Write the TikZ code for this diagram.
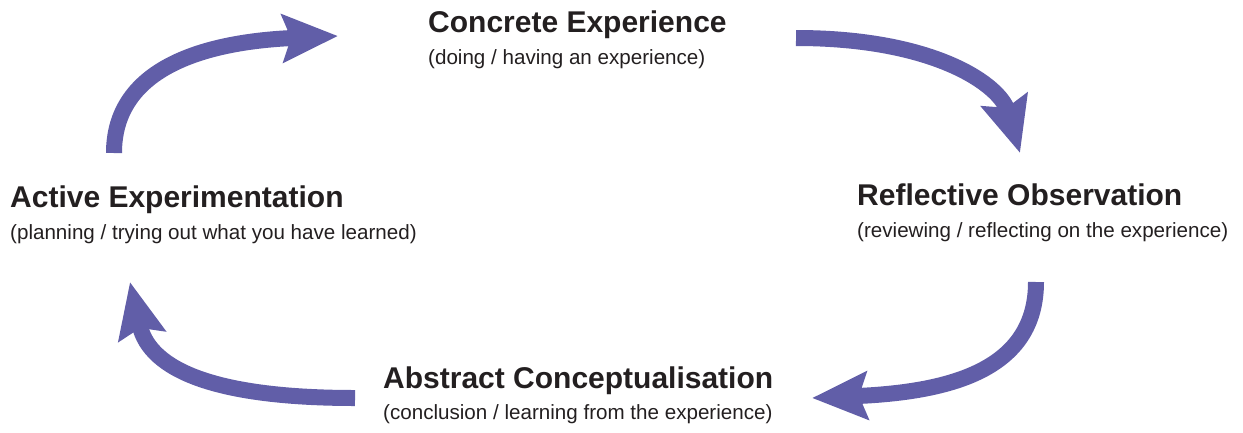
\documentclass[tikz,border=0pt]{standalone}
\usepackage{fontspec}
\setmainfont{Liberation Sans}
\usepackage{tikz}
\usetikzlibrary{positioning, calc, arrows.meta}

\definecolor{cyclepurple}{RGB}{97,94,168}
\definecolor{textdark}{RGB}{35,31,32}

\tikzset{
    stagetitle/.style={anchor=base west, inner sep=0pt, text=textdark,
        font=\fontsize{30}{36}\selectfont\bfseries},
    stagenote/.style={anchor=base west, inner sep=0pt, text=textdark,
        font=\fontsize{20.6}{24}\selectfont},
    cyclearrow/.style={draw=cyclepurple, line width=16pt,
        -{Stealth[length=55pt, width=47pt, inset=8pt]}}
}

\begin{document}
\begin{tikzpicture}[x=1pt, y=-1pt]
    \useasboundingbox (0,0) rectangle (1243,432);

    % Concrete Experience
    \node[stagetitle] (ce) at (428,32) {Concrete Experience};
    \node[stagenote] (cenote) at ($(ce.base west)+(0,32)$) {(doing / having an experience)};

    % Reflective Observation
    \node[stagetitle] (ro) at (857,205) {Reflective Observation};
    \node[stagenote] (ronote) at ($(ro.base west)+(0,32)$) {(reviewing / reflecting on the experience)};

    % Abstract Conceptualisation
    \node[stagetitle] (ac) at (383,388) {Abstract Conceptualisation};
    \node[stagenote] (acnote) at ($(ac.base west)+(0,31)$) {(conclusion / learning from the experience)};

    % Active Experimentation
    \node[stagetitle] (ae) at (10,207) {Active Experimentation};
    \node[stagenote] (aenote) at ($(ae.base west)+(0,32)$) {(planning / trying out what you have learned)};

    % arrow ends
    \coordinate (aeout) at (114,153);
    \coordinate (cein) at (338,36);
    \coordinate (ceout) at (796,38);
    \coordinate (roin) at (1020,153);
    \coordinate (roout) at (1036,282);
    \coordinate (acin) at (812,398);
    \coordinate (acout) at (355,398);
    \coordinate (aein) at (130,282);

    % arrows
    \draw[cyclearrow] (aeout) .. controls (114,70) and (200,42) .. (cein);
    \draw[cyclearrow] (ceout) .. controls (935,38) and (1000,85) .. (roin);
    \draw[cyclearrow] (roout) .. controls (1036,370) and (950,392) .. (acin);
    \draw[cyclearrow] (acout) .. controls (220,398) and (150,372) .. (aein);

\end{tikzpicture}
\end{document}
